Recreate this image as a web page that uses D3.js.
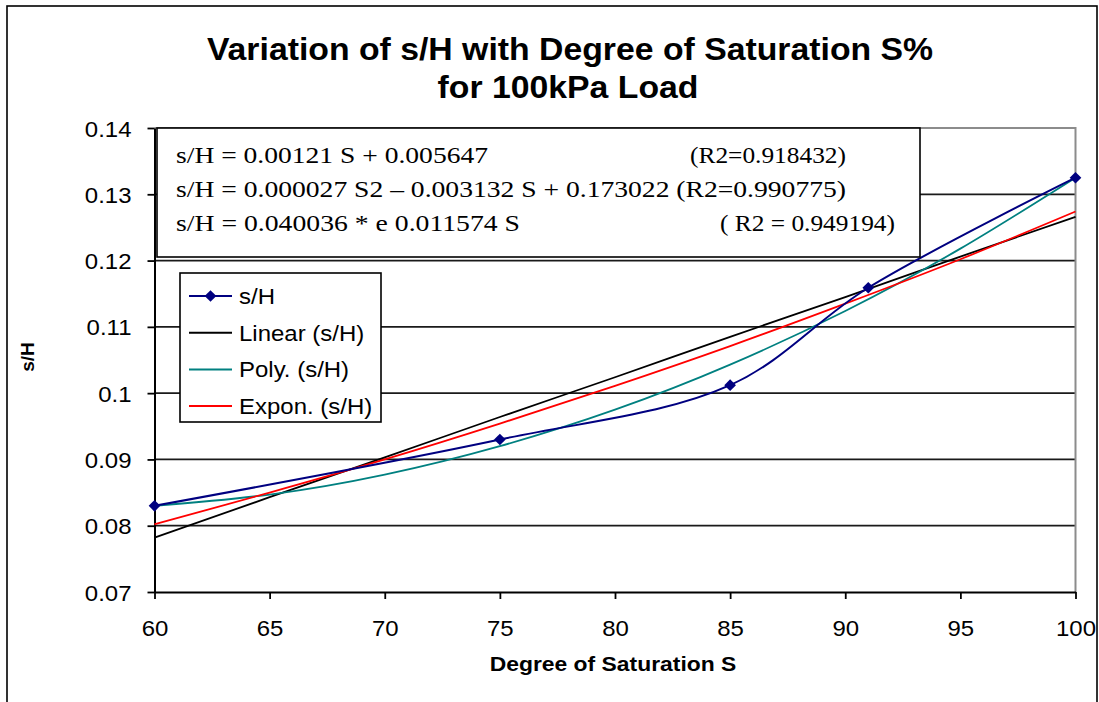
<!DOCTYPE html>
<html><head><meta charset="utf-8">
<script src="https://cdn.jsdelivr.net/npm/d3@7"></script>
<style>body{margin:0;background:#fff} svg{display:block}</style>
</head><body><svg id="c" width="1099" height="702"></svg>
<script>
// ---------- data ----------
const titleLines = ["Variation of s/H with Degree of Saturation S%", "for 100kPa Load"];
const xTitle = "Degree of Saturation S";
const yTitle = "s/H";
const saturation = [60, 75, 85, 91, 100];
const sH = [0.0830, 0.0930, 0.1012, 0.1159, 0.1325];
const trendS = [60, 65, 70, 75, 80, 85, 90, 95, 100];
const linearTrend = [0.0782, 0.0843, 0.0903, 0.0964, 0.1024, 0.1085, 0.1145, 0.1206, 0.1266];
const polyTrend = [0.0830, 0.0847, 0.0877, 0.0920, 0.0975, 0.1043, 0.1124, 0.1218, 0.1325];
const expTrend = [0.0802, 0.0850, 0.0900, 0.0954, 0.1011, 0.1071, 0.1135, 0.1202, 0.1274];
const xTicks = [60, 65, 70, 75, 80, 85, 90, 95, 100];
const yTicks = [0.07, 0.08, 0.09, 0.10, 0.11, 0.12, 0.13, 0.14];
const yTickLabels = ["0.07", "0.08", "0.09", "0.1", "0.11", "0.12", "0.13", "0.14"];
const legendLabels = ["s/H", "Linear (s/H)", "Poly. (s/H)", "Expon. (s/H)"];
const equations = ["s/H = 0.00121 S + 0.005647",
                   "s/H = 0.000027 S2 \u2013 0.003132 S + 0.173022 (R2=0.990775)",
                   "s/H = 0.040036 * e 0.011574 S"];
const r2Labels = ["(R2=0.918432)", null, "( R2 = 0.949194)"];

// ---------- setup ----------
const SANS = '"Liberation Sans", Arial, sans-serif';
const SERIF = '"Liberation Serif", "Times New Roman", serif';
const SX = 1.09;
const svg = d3.select('#c');
const x = d3.scaleLinear().domain([60, 100]).range([154.5, 1075.5]);
const y = d3.scaleLinear().domain([0.07, 0.14]).range([592, 128]);

function stext(px, py, str, size, opts = {}) {
  return svg.append('text')
    .attr('transform', `translate(${px},${py}) scale(${opts.sx || SX},1)`)
    .attr('font-family', opts.family || SANS)
    .attr('font-size', size)
    .attr('font-weight', opts.bold ? 'bold' : 'normal')
    .attr('text-anchor', opts.anchor || 'start')
    .attr('fill', '#000')
    .text(str);
}

// outer chart border
svg.append('rect').attr('x', 7).attr('y', 6).attr('width', 1090).attr('height', 740)
  .attr('fill', '#fff').attr('stroke', '#000').attr('stroke-width', 1.6);

// title
stext(570, 60, titleLines[0], 31, {bold: true, anchor: 'middle'});
stext(568, 98, titleLines[1], 31, {bold: true, anchor: 'middle'});

// gridlines
svg.append('g').selectAll('line').data(yTicks.filter(v => v > 0.075 && v < 0.135)).join('line')
  .attr('x1', x(60)).attr('x2', x(100)).attr('y1', d => y(d)).attr('y2', d => y(d))
  .attr('stroke', '#1a1a1a').attr('stroke-width', 1.8);

// plot border (top/right, gray)
svg.append('path').attr('d', `M${x(60)},${y(0.14)}H${x(100)}V${y(0.07)}`)
  .attr('fill', 'none').attr('stroke', '#8c8c8c').attr('stroke-width', 2);

// axes
const yAxis = d3.axisLeft(y).tickValues(yTicks).tickSize(7).tickSizeOuter(0).tickFormat((d, i) => yTickLabels[i]);
const gy = svg.append('g').attr('transform', `translate(${x(60)},0)`).call(yAxis);
const xAxis = d3.axisBottom(x).tickValues(xTicks).tickSize(7).tickSizeOuter(0).tickFormat(d3.format('d'));
const gx = svg.append('g').attr('transform', `translate(0,${y(0.07)})`).call(xAxis);
[gx, gy].forEach(g => {
  g.select('.domain').attr('stroke', '#000').attr('stroke-width', 2);
  g.selectAll('.tick line').attr('stroke', '#000').attr('stroke-width', 1.8);
  g.selectAll('text').attr('font-family', SANS).attr('font-size', 22).attr('fill', '#000');
});
gy.selectAll('.tick text').attr('x', 0).attr('dy', null).attr('y', 0)
  .attr('transform', `translate(-23,8) scale(${SX},1)`);
gx.selectAll('.tick text').attr('dy', null).attr('y', 0)
  .attr('transform', `translate(0,44) scale(${SX},1)`);

// axis titles
stext(613, 671, xTitle, 21, {bold: true, anchor: 'middle'});
svg.append('text').attr('transform', 'translate(34,357) rotate(-90)')
  .attr('font-family', SANS).attr('font-size', 19).attr('font-weight', 'bold')
  .attr('text-anchor', 'middle').text(yTitle);

// trend lines
const trendLine = d3.line().x((d, i) => x(trendS[i])).y(d => y(d)).curve(d3.curveNatural);
const trends = [
  {vals: linearTrend, color: '#000000'},
  {vals: polyTrend, color: '#008080'},
  {vals: expTrend, color: '#ff0000'}
];
svg.append('g').selectAll('path').data(trends).join('path')
  .attr('d', d => trendLine(d.vals)).attr('fill', 'none')
  .attr('stroke', d => d.color).attr('stroke-width', 1.8);

// data series (smoothed)
const dataLine = d3.line().x((d, i) => x(saturation[i])).y(d => y(d)).curve(d3.curveCatmullRom.alpha(0.5));
svg.append('path').attr('d', dataLine(sH)).attr('fill', 'none')
  .attr('stroke', '#000080').attr('stroke-width', 2);
const diamond = d3.symbol().type(d3.symbolSquare).size(68);
svg.append('g').selectAll('path').data(sH).join('path')
  .attr('d', diamond())
  .attr('transform', (d, i) => `translate(${x(saturation[i])},${y(d)}) rotate(45)`)
  .attr('fill', '#000080');

// equation box
svg.append('rect').attr('x', 157).attr('y', 128).attr('width', 763).attr('height', 129)
  .attr('fill', '#fff').attr('stroke', '#000').attr('stroke-width', 1.6);
const eqBase = [163, 197, 231];
const eqLen = [312, 670, 344];
equations.forEach((eq, i) => {
  svg.append('text').attr('x', 176).attr('y', eqBase[i])
    .attr('font-family', SERIF).attr('font-size', 23)
    .attr('textLength', eqLen[i]).attr('lengthAdjust', 'spacingAndGlyphs').text(eq);
});
const r2Pos = [[690, 156], null, [720, 175]];
r2Labels.forEach((r, i) => {
  if (!r) return;
  svg.append('text').attr('x', r2Pos[i][0]).attr('y', eqBase[i])
    .attr('font-family', SERIF).attr('font-size', 23)
    .attr('textLength', r2Pos[i][1]).attr('lengthAdjust', 'spacingAndGlyphs').text(r);
});

// legend
svg.append('rect').attr('x', 180).attr('y', 273).attr('width', 201).attr('height', 149)
  .attr('fill', '#fff').attr('stroke', '#000').attr('stroke-width', 1.6);
const legColors = ['#000080', '#000000', '#008080', '#ff0000'];
legendLabels.forEach((lab, i) => {
  const cy = 296 + i * 36.7;
  svg.append('line').attr('x1', 189).attr('x2', 232).attr('y1', cy).attr('y2', cy)
    .attr('stroke', legColors[i]).attr('stroke-width', 2);
  if (i === 0) {
    svg.append('path').attr('d', diamond()).attr('transform', `translate(210.5,${cy}) rotate(45)`)
      .attr('fill', '#000080');
  }
  stext(239, cy + 8, lab, 22);
});
</script>
</body></html>
